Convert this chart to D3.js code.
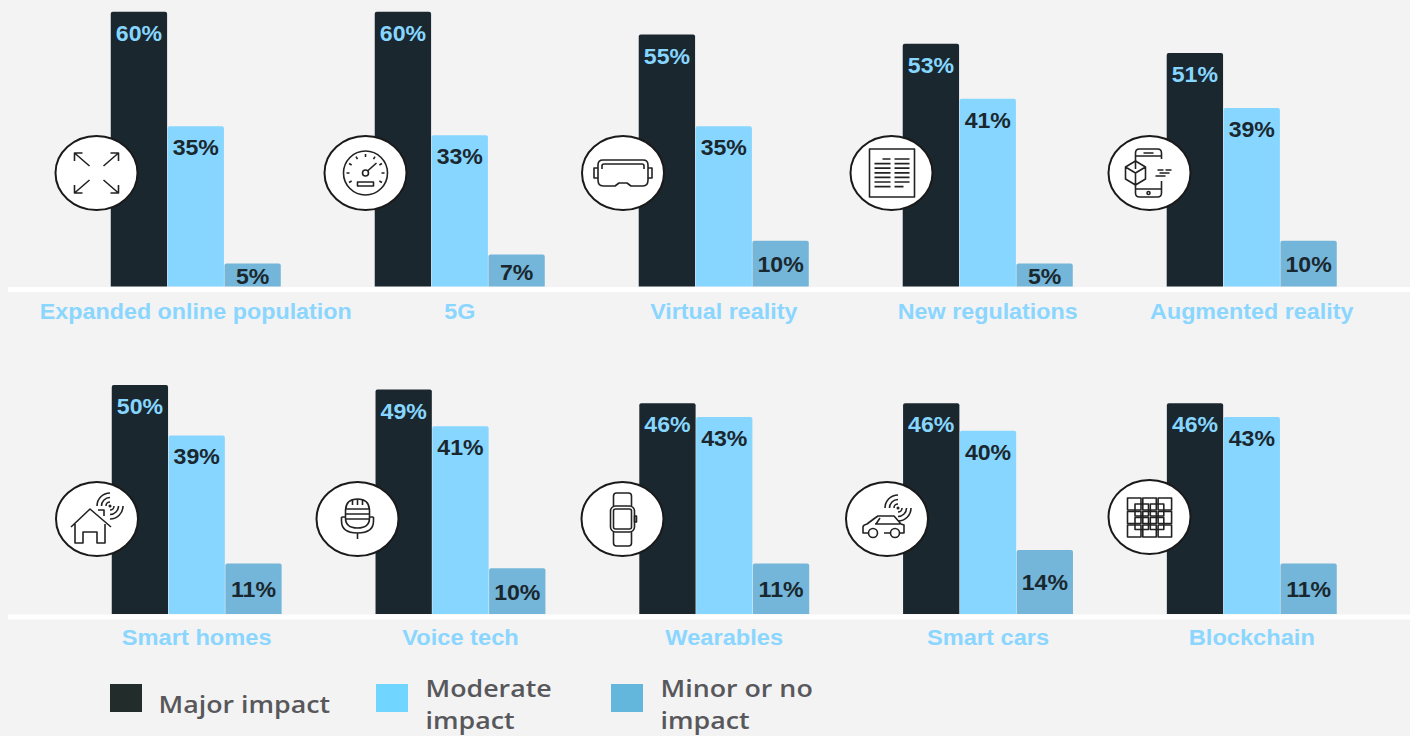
<!DOCTYPE html>
<html>
<head>
<meta charset="utf-8">
<script src="https://cdn.jsdelivr.net/npm/d3@7"></script>
<style>
  html, body { margin: 0; padding: 0; background: #f3f3f3; overflow: hidden; }
  svg { display: block; }
  .value { font: bold 22px "Liberation Sans", Arial, sans-serif; text-anchor: middle; }
  .axis text { font: bold 22px "Liberation Sans", Arial, sans-serif; fill: #8ad6ff; }
  .legend text { font: 600 23.5px "Open Sans", sans-serif; fill: #58585c; }
  .icon * { fill: none; stroke: #222; stroke-width: 1.6; stroke-linejoin: round; }
</style>
</head>
<body>
<svg id="chart" width="1410" height="736"></svg>
<script>
// Expected impact of emerging technologies, split into two rows of five categories.
const categoriesTop = ["Expanded online population", "5G", "Virtual reality", "New regulations", "Augmented reality"];
const categoriesBottom = ["Smart homes", "Voice tech", "Wearables", "Smart cars", "Blockchain"];

const majorTop = [60, 60, 55, 53, 51];
const moderateTop = [35, 33, 35, 41, 39];
const minorTop = [5, 7, 10, 5, 10];

const majorBottom = [50, 49, 46, 46, 46];
const moderateBottom = [39, 41, 43, 40, 43];
const minorBottom = [11, 10, 11, 14, 11];

const iconsTop = ["expand", "gauge", "goggles", "newspaper", "phone"];
const iconsBottom = ["house", "mic", "watch", "car", "grid"];
const iconCentersTop = [96.5, 365.5, 623, 891.5, 1149.5];
const iconCentersBottom = [97, 357.5, 622.5, 887, 1149.5];
const iconRowsTop = [173, 173, 173, 173, 173];
const iconRowsBottom = [519, 519, 519, 519, 517];

const seriesNames = ["Major impact", "Moderate impact", "Minor or no impact"];
const barColors = ["#1a272e", "#87d6ff", "#74b6d9"];
const labelColors = ["#87d6ff", "#1a272e", "#1a272e"];
const legendColors = ["#222c2a", "#70d6ff", "#63b6dc"];

const svg = d3.select("#chart");
svg.append("rect").attr("width", 1410).attr("height", 736).attr("fill", "#f3f3f3");

const pxPerPoint = 4.58;

// Radiating signal arcs on both sides of a small dot.
function waves(g, cx, cy) {
  const p = d3.path();
  [4, 8.5, 13].forEach(r => {
    p.moveTo(cx - r, cy);
    p.arc(cx, cy, r, Math.PI, Math.PI * 1.5);
    p.moveTo(cx + r, cy);
    p.arc(cx, cy, r, 0, Math.PI * 0.5);
  });
  g.append("path").attr("d", p.toString());
  g.append("circle").attr("cx", cx).attr("cy", cy).attr("r", 0.7);
}

const iconDrawers = {
  expand(g) {
    g.append("path").attr("d",
      "M-7-7L-22-20M-22-12V-20H-14" +
      "M7-7L22-20M14-20H22V-12" +
      "M-7 7L-22 20M-22 12V20H-14" +
      "M7 7L22 20M14 20H22V12");
  },
  gauge(g) {
    g.append("circle").attr("r", 22);
    g.append("circle").attr("r", 3);
    g.append("path").attr("d", "M2-2L11-10");
    g.append("rect").attr("x", -8).attr("y", 9).attr("width", 16).attr("height", 4);
    const p = d3.path();
    d3.range(-120, 121, 30).forEach(deg => {
      const a = (deg - 90) * Math.PI / 180;
      p.moveTo(16 * Math.cos(a), 16 * Math.sin(a));
      p.lineTo(19 * Math.cos(a), 19 * Math.sin(a));
    });
    g.append("path").attr("d", p.toString());
  },
  goggles(g) {
    g.append("path").attr("d",
      "M-20-13H20Q25-13 25-8V7Q25 13 20 13H8L4 10H-4L-8 13H-20Q-25 13-25 7V-8Q-25-13-20-13Z");
    g.append("path").attr("d", "M-21-4V-7Q-21-9-19-9H19Q21-9 21-7V-4");
    g.append("path").attr("d", "M-25-5H-29V5H-25M25-5H29V5H25");
  },
  newspaper(g) {
    g.append("rect").attr("x", -22).attr("y", -24).attr("width", 45).attr("height", 48);
    const p = d3.path();
    d3.range(0, 7).forEach(i => {
      const y = -14 + i * 4.6;
      p.moveTo(i === 0 ? -9 : -17, y); p.lineTo(-1, y);
      p.moveTo(3, y); p.lineTo(i === 6 ? 12 : 18, y);
    });
    g.append("path").attr("d", p.toString()).style("stroke-width", 1.7);
  },
  phone(g) {
    g.append("path").attr("d",
      "M-14-4V-20Q-14-24-10-24H8Q12-24 12-20V-14M12 8V20Q12 24 8 24H-10Q-14 24-14 20V11");
    g.append("path").attr("d", "M-14-17H12M-14 16H12M-6-20H4");
    g.append("circle").attr("cx", -1).attr("cy", 20).attr("r", 1.5);
    g.append("path").attr("d", "M-24-6L-14-12L-4-6V6L-14 12L-24 6ZM-24-6L-14 0L-4-6M-14 0V12");
    g.append("path").attr("d", "M8-3H14M16-3H22M10 0H20M6 3H16");
  },
  house(g) {
    g.append("path").attr("d",
      "M-26 8L-7-10L14 8M-22 5V24H-14V13H0V24H8V5M1-9H7V-3");
    waves(g, 13, -13);
  },
  mic(g) {
    g.append("path").attr("d", "M-12-8Q-12-20 0-20Q12-20 12-8V-1Q12 9 0 9Q-12 9-12-1Z");
    g.append("path").attr("d", "M-12-10H12M-12-5H12M-12 0H12M-5-20V-14M0-20V-14M5-20V-14");
    g.append("path").attr("d", "M-16-2V2Q-16 14 0 14Q16 14 16 2V-2M-16-2H-12M16-2H12M0 14V20");
  },
  watch(g) {
    g.append("rect").attr("x", -12).attr("y", -13).attr("width", 24).attr("height", 26).attr("rx", 5);
    g.append("rect").attr("x", -9).attr("y", -10).attr("width", 18).attr("height", 20).attr("rx", 2);
    g.append("path").attr("d", "M-9-13V-23Q-9-26-6-26H6Q9-26 9-23V-13M-9 13V24Q-9 27-6 27H6Q9 27 9 24V13");
    g.append("rect").attr("x", 12).attr("y", -3).attr("width", 2).attr("height", 6);
  },
  car(g) {
    g.append("path").attr("d",
      "M-19 14H-24V8Q-24 6-20 5L-12-1L-9-3H7L14 5L17 6V14H12M-3 14H3M-11 5L-7-1M-12 5H13");
    g.append("circle").attr("cx", -14).attr("cy", 14).attr("r", 4.5);
    g.append("circle").attr("cx", 8).attr("cy", 14).attr("r", 4.5);
    waves(g, 11, -11);
  },
  grid(g) {
    d3.range(0, 3).forEach(r => d3.range(0, 3).forEach(c => {
      g.append("rect").attr("x", -22 + c * 15.3).attr("y", -19 + r * 13.5)
        .attr("width", 13.5).attr("height", 12);
    }));
    d3.range(0, 2).forEach(r => d3.range(0, 2).forEach(c => {
      g.append("rect").attr("x", -14.5 + c * 15.3).attr("y", -13 + r * 13.5)
        .attr("width", 13.5).attr("height", 12);
    }));
  }
};

function drawRow(opts) {
  const { categories, major, moderate, minor, icons, iconCenters, iconRows, baseline, left, axisY, axisStretch } = opts;
  const values = [major, moderate, minor];

  const x0 = d3.scaleBand().domain(categories).range([left, 1337]).paddingInner(0.354).paddingOuter(0);
  const x1 = d3.scaleBand().domain(seriesNames).range([0, x0.bandwidth()]);
  const y = d3.scaleLinear().domain([0, 60]).range([baseline, baseline - 60 * pxPerPoint]);

  const row = svg.append("g");

  // White floor under the bars.
  row.append("rect").attr("x", 8).attr("y", baseline + 0.5).attr("width", 1402).attr("height", 5).attr("fill", "#fff");

  const groups = row.selectAll(".group").data(categories).join("g")
    .attr("class", "group")
    .attr("transform", d => `translate(${x0(d)},0)`);

  seriesNames.forEach((name, s) => {
    groups.append("path")
      .attr("fill", barColors[s])
      .attr("d", (d, i) => {
        const xa = x1(name) + 0.25, w = x1.bandwidth() - 0.5, t = y(values[s][i]), r = 2;
        const p = d3.path();
        p.moveTo(xa, baseline);
        p.lineTo(xa, t + r);
        p.quadraticCurveTo(xa, t, xa + r, t);
        p.lineTo(xa + w - r, t);
        p.quadraticCurveTo(xa + w, t, xa + w, t + r);
        p.lineTo(xa + w, baseline);
        p.closePath();
        return p.toString();
      });

    groups.append("text")
      .attr("class", "value")
      .attr("fill", labelColors[s])
      .attr("transform", (d, i) => {
        const t = y(values[s][i]), h = baseline - t;
        const drop = s === 2 ? h * 0.47 + 10 : 29;
        return `translate(${x1(name) + x1.bandwidth() / 2},${t + drop}) scale(1.05,1)`;
      })
      .text((d, i) => values[s][i] + "%");
  });

  // Category names sit on a tickless band axis.
  const axis = row.append("g")
    .attr("class", "axis")
    .attr("transform", `translate(0,${axisY})`)
    .call(d3.axisBottom(x0).tickSize(0).tickPadding(0));
  axis.select(".domain").remove();
  axis.selectAll(".tick text").attr("dy", 0).attr("y", 0).attr("transform", `scale(${axisStretch},1)`);

  // Round icon badges overlapping the first bar of each group.
  const badges = row.selectAll(".badge").data(icons).join("g")
    .attr("class", "badge")
    .attr("transform", (d, i) => `translate(${iconCenters[i]},${iconRows[i]})`);
  badges.append("ellipse")
    .attr("rx", 41).attr("ry", 37)
    .attr("fill", "#fff").attr("stroke", "#1a1a1a").attr("stroke-width", 2);
  badges.append("g").attr("class", "icon").each(function (d) {
    iconDrawers[d](d3.select(this));
  });
}

drawRow({
  categories: categoriesTop, major: majorTop, moderate: moderateTop, minor: minorTop,
  icons: iconsTop, iconCenters: iconCentersTop, iconRows: iconRowsTop,
  baseline: 286.5, left: 110.5, axisY: 319, axisStretch: 1.06
});
drawRow({
  categories: categoriesBottom, major: majorBottom, moderate: moderateBottom, minor: minorBottom,
  icons: iconsBottom, iconCenters: iconCentersBottom, iconRows: iconRowsBottom,
  baseline: 614, left: 111.5, axisY: 645, axisStretch: 1.075
});

// Legend: swatches with one- or two-line captions, widened slightly along x.
const legendLines = [["Major impact"], ["Moderate", "impact"], ["Minor or no", "impact"]];
const swatchXs = [110, 376, 611];
const legend = svg.append("g").attr("class", "legend");
seriesNames.forEach((name, i) => {
  const g = legend.append("g").attr("transform", `translate(${swatchXs[i]},684)`);
  g.append("rect").attr("width", 32).attr("height", 28).attr("fill", legendColors[i]);
  const lines = legendLines[i];
  const labelX = i === 0 ? 48.5 : 49.5;
  g.append("g")
    .attr("transform", `translate(${labelX},0) scale(1.14,1)`)
    .selectAll("text").data(lines).join("text")
    .attr("y", (d, k) => lines.length === 1 ? 29 : 13 + k * 32)
    .text(d => d);
});
</script>
</body>
</html>
